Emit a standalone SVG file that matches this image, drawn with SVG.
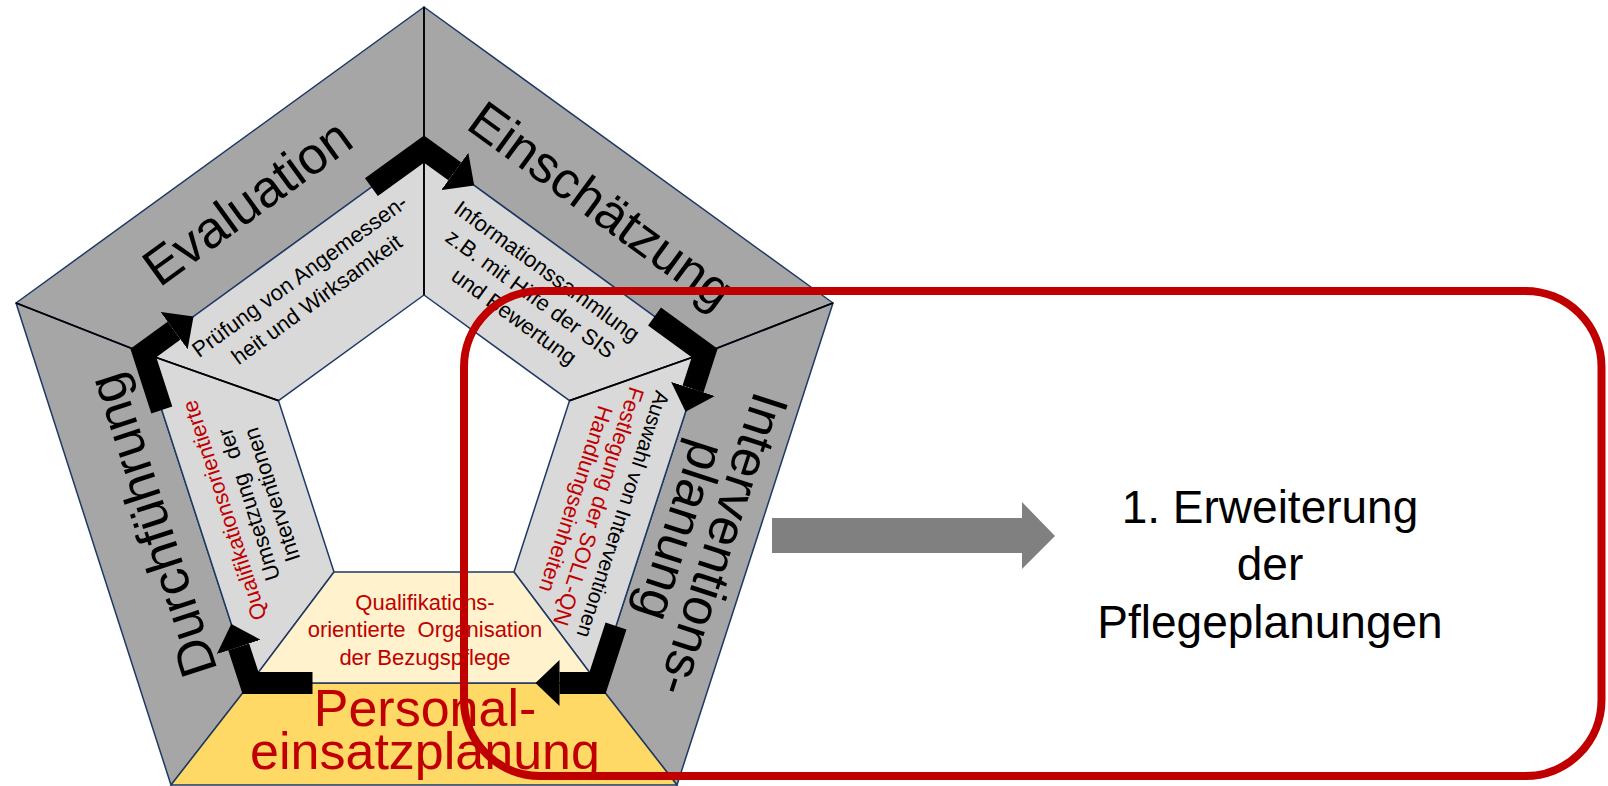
<svg xmlns="http://www.w3.org/2000/svg" width="1608" height="786" viewBox="0 0 1608 786">
<defs>
<style>
text{font-family:"Liberation Sans",Arial,sans-serif;}
.band{fill:#A6A6A6;stroke:#1F3864;stroke-width:1.5;stroke-linejoin:round;}
.panel{fill:#D9D9D9;stroke:#1F3864;stroke-width:1.5;stroke-linejoin:round;}
.pale{fill:#FFF2CC;stroke:#1F3864;stroke-width:1.5;}
.gold{fill:#FFD966;stroke:#1F3864;stroke-width:1.5;}
.div{stroke:#000;stroke-width:1.8;fill:none;}
.big{font-size:52px;fill:#000;}
.small{font-size:22px;fill:#000;}
.red{fill:#C00000;}
.flow{fill:none;stroke:#000;stroke-width:22;stroke-linejoin:miter;stroke-linecap:butt;marker-end:url(#head);}
</style>
<marker id="head" viewBox="0 0 24 46" refX="0" refY="23" markerWidth="24" markerHeight="46" markerUnits="userSpaceOnUse" orient="auto">
<path d="M0,0 L24,23 L0,46 Z" fill="#000"/>
</marker>
</defs>

<g id="evaluation">
<polygon class="band" points="16,303 424,7 424,149 143.3,353"/>
<text class="big" text-anchor="middle" transform="translate(424 437) rotate(-36)" x="-5" y="-276">Evaluation</text>
</g>
<g id="einschaetzung">
<polygon class="band" points="424,7 833,303 704.7,353 424,149"/>
<text class="big" text-anchor="middle" transform="translate(424 437) rotate(36)" x="7" y="-274">Einschätzung</text>
</g>
<g id="interventionsplanung">
<polygon class="band" points="833,303 677,785 597.5,683 704.7,353"/>
<text class="big" text-anchor="middle" transform="translate(424 437) rotate(108)"><tspan x="10" y="-300">Interventions-</tspan><tspan x="10" y="-256">planung</tspan></text>
</g>
<g id="durchfuehrung">
<polygon class="band" points="171,785 16,303 143.3,353 250.5,683"/>
<text class="big" text-anchor="middle" transform="translate(424 437) rotate(-108)" x="0" y="-268">Durchführung</text>
</g>
<g id="personaleinsatzplanung">
<polygon class="gold" points="677,785 171,785 250.5,683 597.5,683"/>
<text class="big red" text-anchor="middle" x="425" y="726">Personal-</text>
<text class="big red" text-anchor="middle" x="425" y="769">einsatzplanung</text>
</g>

<g id="panel-evaluation">
<polygon class="panel" points="143.3,353 424,149 424,295 278.5,400.7"/>
<text class="small" text-anchor="middle" transform="translate(424 437) rotate(-36)"><tspan x="-6" y="-196">Prüfung von Angemessen-</tspan><tspan x="-6" y="-167">heit und Wirksamkeit</tspan></text>
</g>
<g id="panel-einschaetzung">
<polygon class="panel" points="424,149 704.7,353 569.5,400.7 424,295"/>
<text class="small" text-anchor="middle" transform="translate(424 437) rotate(36)"><tspan x="2" y="-199">Informationssammlung</tspan><tspan x="2" y="-171">z.B. mit Hilfe der SIS</tspan><tspan x="2" y="-143">und Bewertung</tspan></text>
</g>
<g id="panel-interventionsplanung">
<polygon class="panel" points="704.7,353 597.5,683 514,572 569.5,400.7"/>
<text class="small" text-anchor="middle" transform="translate(424 437) rotate(108)"><tspan x="12" y="-206" font-size="21">Auswahl von Interventionen</tspan><tspan class="red" x="12" y="-180">Festlegung der SOLL-QN</tspan><tspan class="red" x="12" y="-156">Handlungseinheiten</tspan></text>
</g>
<g id="panel-durchfuehrung">
<polygon class="panel" points="250.5,683 143.3,353 278.5,400.7 334,572"/>
<text class="small" text-anchor="middle" transform="translate(424 437) rotate(-108)"><tspan class="red" x="-8" y="-205">Qualifikationsorientierte</tspan><tspan x="-10" y="-180" word-spacing="10">Umsetzung der</tspan><tspan x="-8" y="-155">Interventionen</tspan></text>
</g>
<g id="panel-personaleinsatz">
<polygon class="pale" points="597.5,683 250.5,683 334,572 514,572"/>
<text class="small red" text-anchor="middle"><tspan x="425" y="610">Qualifikations-</tspan><tspan x="425" y="637" word-spacing="6">orientierte Organisation</tspan><tspan x="425" y="665">der Bezugspflege</tspan></text>
</g>

<g id="dividers">
<polyline class="div" points="424,7 424,149 424,295"/>
<polyline class="div" points="16,303 143.3,353 278.5,400.7"/>
<polyline class="div" points="833,303 704.7,353 569.5,400.7"/>
</g>

<g id="connectors">
<path class="flow" d="M371.4,187.2 L424,149 L454.8,171.4"/>
<path class="flow" d="M654.5,316.5 L704.7,353 L693,389"/>
<path class="flow" d="M616,626 L597.5,683 L559.5,683"/>
<path class="flow" d="M312.5,683 L250.5,683 L238.7,646.9"/>
<path class="flow" d="M161.8,410 L143.3,353 L174.1,330.6"/>
<polygon id="grey-arrow" points="772,518 1022,518 1022,502 1055,536 1022,569 1022,553 772,553" fill="#808080"/>
</g>

<g id="erweiterung">
<rect x="464" y="291" width="1137.5" height="485" rx="76" ry="76" fill="none" stroke="#C00000" stroke-width="8"/>
<text text-anchor="middle" font-size="46" fill="#000"><tspan x="1270" y="523">1. Erweiterung</tspan><tspan x="1270" y="580">der</tspan><tspan x="1270" y="638">Pflegeplanungen</tspan></text>
</g>
</svg>
